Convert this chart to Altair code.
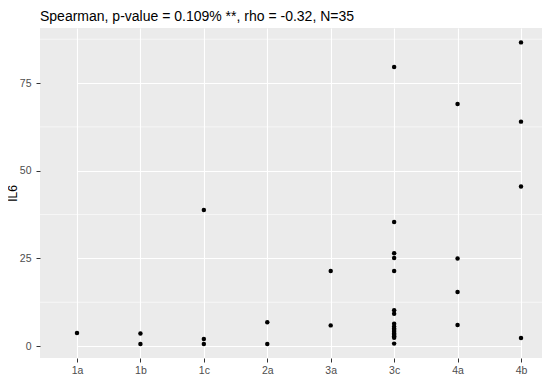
import altair as alt
import pandas as pd

FONT = "Liberation Sans"

stage = (["1a"] + ["1b"] * 2 + ["1c"] * 3 + ["2a"] * 2 + ["3a"] * 2 +
         ["3c"] * 17 + ["4a"] * 4 + ["4b"] * 4)
il6 = [3.7,
       3.6, 0.6,
       38.8, 2.0, 0.6,
       6.8, 0.6,
       21.4, 5.9,
       79.6, 35.4, 26.5, 25.1, 21.4, 10.2, 9.2, 6.4, 5.6, 5.0, 4.6, 4.1, 3.6, 3.2, 2.8, 2.4, 0.7,
       69.0, 25.0, 15.4, 6.0,
       86.6, 64.0, 45.5, 2.3]
categories = ["1a", "1b", "1c", "2a", "3a", "3c", "4a", "4b"]
minor_breaks = [12.5, 37.5, 62.5, 87.5]

df = pd.DataFrame({"stage": stage, "IL6": il6})
minor_df = pd.DataFrame({"y": minor_breaks})

yscale = alt.Scale(domain=[-3.4, 90.7], nice=False, zero=False)
xscale = alt.Scale(domain=categories, range=[37, 481], padding=0)

minor = alt.Chart(minor_df).mark_rule(color="white", strokeWidth=0.6).encode(
    y=alt.Y("y:Q", scale=yscale)
)

points = alt.Chart(df).mark_circle(size=20, color="black", opacity=1).encode(
    x=alt.X("stage:O", scale=xscale, sort=categories,
            axis=alt.Axis(title=None, labelAngle=0, grid=True, labelPadding=3)),
    y=alt.Y("IL6:Q", scale=yscale, title="IL6",
            axis=alt.Axis(values=[0, 25, 50, 75], grid=True, labelPadding=5,
                          titleX=-20.5))
)

chart = alt.layer(minor, points).properties(
    width=502, height=330,
    autosize=alt.AutoSizeParams(type="none"),
    padding={"left": 32, "top": 20, "right": 0, "bottom": 16},
    title=alt.TitleParams(
        "Spearman, p-value = 0.109% **, rho = -0.32, N=35",
        anchor="start", frame="group", font=FONT, fontSize=14,
        fontWeight="normal", color="black", offset=4
    ),
).configure_view(
    fill="#EBEBEB", stroke=None
).configure_axis(
    gridColor="white", gridWidth=1.1, domain=False,
    tickColor="#333333", tickSize=4, tickWidth=1,
    labelColor="#4D4D4D", labelFont=FONT, labelFontSize=10.5,
    titleFont=FONT, titleFontSize=12, titleFontWeight="normal", titleColor="black"
)

chart.save("out.html", embed_options={"renderer": "svg", "actions": False})
